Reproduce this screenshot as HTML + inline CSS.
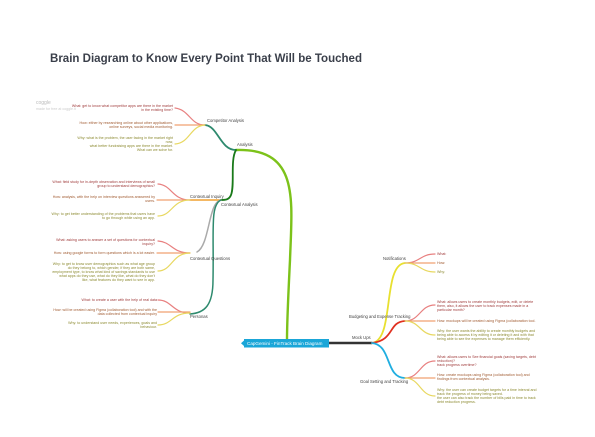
<!DOCTYPE html>
<html><head><meta charset="utf-8"><style>
body{margin:0;background:#fff}
svg{display:block}
text{font-family:"Liberation Sans",sans-serif}
.l{font-size:3.6px}
.r{fill:#a03c3c}.o{fill:#a05a30}.y{fill:#8c8a30}
.b{font-size:4.2px;fill:#444}
</style></head><body>
<svg width="595" height="437" viewBox="0 0 595 437" xmlns="http://www.w3.org/2000/svg">
<text x="50" y="62" font-size="12" font-weight="bold" fill="#3a3f4a" textLength="312" lengthAdjust="spacingAndGlyphs">Brain Diagram to Know Every Point That Will be Touched</text>
<text x="36" y="104" font-size="5" fill="#bbb">coggle</text>
<text x="36" y="110" font-size="3.6" fill="#ccc">made for free at coggle.it</text>
<g fill="none" stroke-linecap="round">
<path d="M236 150 C300 148 292 200 290 260 C288 300 287 320 287 340" stroke="#7cc21a" stroke-width="2.4"/>
<path d="M328 343 L372 343" stroke="#333" stroke-width="2.4"/>
<path d="M236 150 C220 150 218 126 205 125" stroke="#2e8a6e" stroke-width="1.8"/>
<path d="M236 150 C230 160 235 185 231 195 C229 200 225 200 221 200" stroke="#1a7a1a" stroke-width="1.8"/>
<path d="M221 200 L190 200" stroke="#f0a030" stroke-width="1.5"/>
<path d="M221 200 C208 202 210 245 197 252" stroke="#aaa" stroke-width="1.5"/>
<path d="M221 200 C210 205 214 230 213 280 C213 305 205 313 190 314" stroke="#2e8a6e" stroke-width="1.5"/>
<g stroke-width="1.2">
<path d="M205 125 C190 125 190 110 175 108" stroke="#e88080"/><path d="M205 125 L175 125" stroke="#f0a070"/><path d="M205 125 C190 126 190 143 175 144" stroke="#e8d860"/>
<path d="M190 200 C172 200 172 185 158 184" stroke="#e88080"/><path d="M190 200 L157 200" stroke="#f0a070"/><path d="M190 200 C172 200 172 216 158 216" stroke="#e8d860"/>
<path d="M190 253 C172 253 172 242 158 241" stroke="#e88080"/><path d="M190 253 L157 253" stroke="#f0a070"/><path d="M190 253 C172 253 172 271 158 271" stroke="#e8d860"/>
<path d="M190 313 C172 313 172 300 158 300" stroke="#e88080"/><path d="M190 312 L158 312" stroke="#f0a070"/><path d="M190 313 C172 313 172 325 158 325" stroke="#e8d860"/>
</g>
<path d="M372 343 C395 340 382 265 405 263" stroke="#e8e030" stroke-width="1.8"/>
<path d="M372 343 C395 340 388 322 405 321" stroke="#e03020" stroke-width="1.8"/>
<path d="M372 343 C392 345 385 378 405 378" stroke="#20aee0" stroke-width="1.8"/>
<g stroke-width="1.2">
<path d="M405 263 C420 263 420 254 435 254" stroke="#e88080"/><path d="M405 263 L435 263" stroke="#f0a070"/><path d="M405 263 C420 263 420 272 435 272" stroke="#e8d860"/>
<path d="M405 321 C420 321 420 305 435 305" stroke="#e88080"/><path d="M405 321 L435 321" stroke="#f0a070"/><path d="M405 321 C420 321 420 335 435 335" stroke="#e8d860"/>
<path d="M405 378 C420 378 420 361 435 361" stroke="#e88080"/><path d="M405 378 L435 378" stroke="#f0a070"/><path d="M405 378 C420 378 420 396 435 396" stroke="#e8d860"/>
</g>
</g>
<rect x="244" y="339" width="85" height="8.5" fill="#1aa6d8"/>
<polygon points="244,340.5 241,343.2 244,346" fill="#1aa6d8"/>
<text x="247" y="344.8" font-size="4.6" fill="#fff">CapGemini - FinTrack Brain Diagram</text>
<text class="b" x="237" y="146">Analysis</text>
<text class="b" x="207" y="122">Competitor Analysis</text>
<text class="b" x="221" y="206">Contextual Analysis</text>
<text class="b" x="190" y="198" fill="#a07020">Contextual Inquiry</text>
<text class="b" x="190" y="260">Contextual Questions</text>
<text class="b" x="190" y="318">Personas</text>
<text class="b" x="352" y="339" font-size="4.6" fill="#222">Mock Ups</text>
<text class="b" x="383" y="260">Notifications</text>
<text class="b" x="349" y="318">Budgeting and Expense Tracking</text>
<text class="b" x="360" y="383">Goal Setting and Tracking</text>
<g class="l" text-anchor="end">
<text class="r" x="173" y="107">What: get to know what competitor apps are there in the market</text>
<text class="r" x="173" y="111">in the existing time?</text>
<text class="o" x="173" y="124">How: either by researching online about other applications,</text>
<text class="o" x="173" y="128">online surveys, social media monitoring.</text>
<text class="y" x="173" y="139">Why: what is the problem, the user facing in the market right</text>
<text class="y" x="173" y="143">now,</text>
<text class="y" x="173" y="147">what better fundraising apps are there in the market.</text>
<text class="y" x="173" y="151">What can we solve for.</text>
<text class="r" x="155" y="183">What: field study for in-depth observation and interviews of small</text>
<text class="r" x="155" y="187">group to understand demographics?</text>
<text class="o" x="155" y="198">How: analysis, with the help on interview questions answered by</text>
<text class="o" x="155" y="202">users.</text>
<text class="y" x="155" y="215">Why: to get better understanding of the problems that users have</text>
<text class="y" x="155" y="219">to go through while using an app.</text>
<text class="r" x="155" y="241">What: asking users to answer a set of questions for contextual</text>
<text class="r" x="155" y="245">inquiry?</text>
<text class="o" x="155" y="254">How: using google forms to form questions which is a lot easier.</text>
<text class="y" x="155" y="265">Why: to get to know user demographics such as what age group</text>
<text class="y" x="155" y="269">do they belong to, which gender, if they are both same,</text>
<text class="y" x="155" y="273">employment type, to know what kind of savings standards to use</text>
<text class="y" x="155" y="277">what apps do they use, what do they like, what do they don't</text>
<text class="y" x="155" y="281">like, what features do they want to see in app.</text>
<text class="r" x="157" y="301">What: to create a user with the help of real data</text>
<text class="o" x="157" y="311">How: will be created using Figma (collaboration tool) and with the</text>
<text class="o" x="157" y="315">data collected from contextual inquiry</text>
<text class="y" x="157" y="324">Why: to understand user needs, experiences, goals and</text>
<text class="y" x="157" y="328">behaviour.</text>
</g>
<g class="l">
<text class="r" x="437" y="255">What:</text>
<text class="o" x="437" y="264">How:</text>
<text class="y" x="437" y="273">Why:</text>
<text class="r" x="437" y="303">What: allows users to create monthly budgets, edit, or delete</text>
<text class="r" x="437" y="307">them, also, it allows the user to track expenses made in a</text>
<text class="r" x="437" y="311">particular month?</text>
<text class="o" x="437" y="322">How: mockups will be created using Figma (collaboration tool.</text>
<text class="y" x="437" y="332">Why: the user wants the ability to create monthly budgets and</text>
<text class="y" x="437" y="336">being able to access it by editing it or deleting it and with that</text>
<text class="y" x="437" y="340">being able to see the expenses to manage them efficiently.</text>
<text class="r" x="437" y="358">What: allows users to See financial goals (saving targets, debt</text>
<text class="r" x="437" y="362">reduction)?</text>
<text class="r" x="437" y="366">track progress overtime?</text>
<text class="o" x="437" y="376">How: create mockups using Figma (collaboration tool) and</text>
<text class="o" x="437" y="380">findings from contextual analysis.</text>
<text class="y" x="437" y="391">Why: the user can create budget targets for a time interval and</text>
<text class="y" x="437" y="395">track the progress of money being saved.</text>
<text class="y" x="437" y="399">the user can also track the number of bills paid in time to track</text>
<text class="y" x="437" y="403">debt reduction progress.</text>
</g>
</svg>
</body></html>
